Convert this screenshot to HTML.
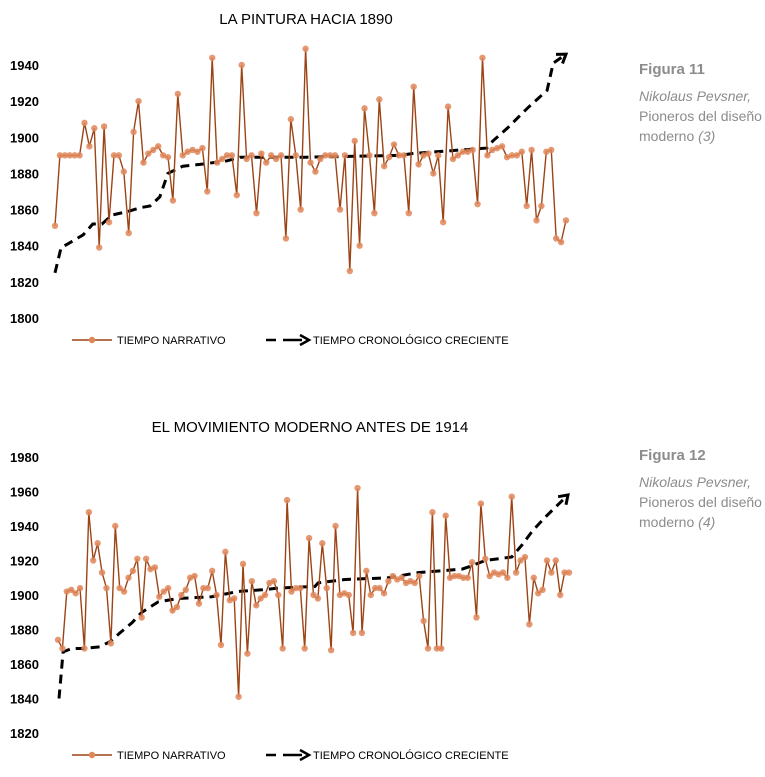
<!DOCTYPE html>
<html><head><meta charset="utf-8">
<style>
body{margin:0;background:#fff;width:765px;height:777px;overflow:hidden;font-family:"Liberation Sans",sans-serif}
svg{position:absolute;left:0;top:0}
.side{position:absolute;left:639px;color:#8c8c8c;font-size:14px;line-height:20px}
.side b{display:block;font-size:15px;margin-bottom:6px;color:#8c8c8c}
</style></head>
<body>
<svg id="chart" width="765" height="777"></svg>
<div class="side" style="top:60px"><b>Figura 11</b><i>Nikolaus Pevsner,</i><br>Pioneros del diseño<br>moderno <i>(3)</i></div>
<div class="side" style="top:446px"><b>Figura 12</b><i>Nikolaus Pevsner,</i><br>Pioneros del diseño<br>moderno <i>(4)</i></div>
<script>
const narr1=[1851,1890,1890,1890,1890,1890,1908,1895,1905,1839,1906,1853,1890,1890,1881,1847,1903,1920,1886,1891,1893,1895,1890,1889,1865,1924,1890,1892,1893,1892,1894,1870,1944,1886,1888,1890,1890,1868,1940,1888,1890,1858,1891,1886,1890,1888,1890,1844,1910,1890,1860,1949,1886,1881,1888,1890,1890,1890,1860,1890,1826,1898,1840,1916,1890,1858,1921,1884,1889,1896,1890,1890,1858,1928,1885,1890,1891,1880,1890,1853,1917,1888,1890,1892,1892,1893,1863,1944,1890,1893,1894,1895,1889,1890,1890,1892,1862,1893,1854,1862,1892,1893,1844,1842,1854];
const trendProg1=[0,.012,.025,.055,.074,.092,.112,.143,.166,.186,.205,.221,.25,.284,.337,.362,.493,.675,.70,.845,.857,.885,.924,.963,.975,1.0];
const trendVal1=[1825,1839,1841,1846,1852,1852,1857,1859,1861,1862,1867,1880,1884,1885,1887,1889,1889,1890,1891,1894,1898,1905,1916,1926,1941,1946];
const ticks1=[1800,1820,1840,1860,1880,1900,1920,1940];
const narr2=[1874,1869,1902,1903,1901,1904,1869,1948,1920,1930,1913,1904,1872,1940,1904,1902,1910,1914,1921,1887,1921,1915,1916,1899,1902,1904,1891,1893,1900,1903,1910,1911,1895,1904,1904,1914,1900,1871,1925,1897,1898,1841,1918,1866,1908,1894,1898,1900,1907,1908,1900,1869,1955,1902,1904,1904,1869,1933,1900,1898,1930,1904,1868,1940,1900,1901,1900,1878,1962,1878,1914,1900,1904,1904,1901,1908,1911,1909,1910,1907,1908,1907,1911,1885,1869,1948,1869,1869,1946,1910,1911,1911,1910,1910,1919,1887,1953,1921,1911,1913,1912,1913,1910,1957,1913,1920,1922,1883,1910,1901,1903,1920,1913,1920,1900,1913,1913];
const trendProg2=[.002,.01,.027,.049,.082,.102,.121,.145,.164,.196,.235,.301,.352,.399,.431,.503,.509,.562,.646,.705,.791,.81,.836,.888,.908,.928,.953,.998];
const trendVal2=[1840,1867,1869,1869,1870,1873,1878,1884,1890,1896,1898,1899,1902,1903,1904,1905,1907,1909,1910,1913,1915,1917,1920,1922,1929,1937,1945,1958];
const ticks2=[1820,1840,1860,1880,1900,1920,1940,1960,1980];

const NS="http://www.w3.org/2000/svg";
const svg=document.getElementById('chart');
function mk(tag,attrs,parent){const e=document.createElementNS(NS,tag);for(const k in attrs)e.setAttribute(k,attrs[k]);(parent||svg).appendChild(e);return e;}

function drawChart(cfg){
  const g=mk('g',{});
  
  
  const y=v=>cfg.yBot-(v-cfg.vMin)/(cfg.vMax-cfg.vMin)*(cfg.yBot-cfg.yTop);
  const xi=i=>cfg.x0+i/(cfg.narr.length-1)*(cfg.x1-cfg.x0);
  const xp=p=>cfg.x0+p*(cfg.x1-cfg.x0);
  const t=mk('text',{x:cfg.titleX,y:cfg.titleY,'text-anchor':'middle','font-size':'15','fill':'#000'},g);
  t.textContent=cfg.title;
  
  
  cfg.ticks.forEach(v=>{
    const l=mk('text',{x:10,y:y(v)+5,'font-size':'13','font-weight':'bold','fill':'#000'},g);
    l.textContent=v;
    
    
  });
  // trend
  let d='';
  cfg.tp.forEach((p,i)=>{d+=(i?'L':'M')+xp(p).toFixed(1)+' '+y(cfg.tv[i]).toFixed(1);});
  const tr=mk('path',{d:d,fill:'none',stroke:'#000','stroke-width':'3','stroke-dasharray':'9 6'},g);
  
  
  const n=cfg.tp.length;
  const ex=xp(cfg.tp[n-1]),ey=y(cfg.tv[n-1]),px=xp(cfg.tp[n-2]),py=y(cfg.tv[n-2]);
  const a=Math.atan2(ey-py,ex-px),L=10;
  const ah=mk('path',{d:`M${ex-L*Math.cos(a-0.6)} ${ey-L*Math.sin(a-0.6)}L${ex} ${ey}L${ex-L*Math.cos(a+0.6)} ${ey-L*Math.sin(a+0.6)}`,fill:'none',stroke:'#000','stroke-width':'3'},g);
  
  
  // narrative
  let d2='';
  cfg.narr.forEach((v,i)=>{d2+=(i?'L':'M')+xi(i).toFixed(1)+' '+y(v).toFixed(1);});
  const nl=mk('path',{d:d2,fill:'none',stroke:'#9c4416','stroke-width':'1.4'},g);
  
  
  cfg.narr.forEach((v,i)=>{
    const c=mk('circle',{cx:xi(i),cy:y(v),r:3.2,fill:'#e0875a','fill-opacity':'0.85'},g);
    
    
  });
  // legend
  const ly=cfg.legY;
  const lg=mk('g',{},g);
  
  
  mk('line',{x1:72,y1:ly,x2:112,y2:ly,stroke:'#9c4416','stroke-width':'1.4'},lg);
  mk('circle',{cx:92,cy:ly,r:3.2,fill:'#e0875a'},lg);
  const t1=mk('text',{x:117,y:ly+4,'font-size':'11','fill':'#000'},lg);
  t1.textContent='TIEMPO NARRATIVO';
  
  
  mk('path',{d:`M266 ${ly}H276M283 ${ly}H302`,stroke:'#000','stroke-width':'2.5',fill:'none'},lg);
  mk('path',{d:`M300 ${ly-5}L309 ${ly}L300 ${ly+5}`,stroke:'#000','stroke-width':'2.5',fill:'none'},lg);
  const t2=mk('text',{x:313,y:ly+4,'font-size':'11','fill':'#000'},lg);
  t2.textContent='TIEMPO CRONOLÓGICO CRECIENTE';
  
  
}
drawChart({name:'chart-pintura-1890',title:'LA PINTURA HACIA 1890',titleX:306,titleY:24,narr:narr1,tp:trendProg1,tv:trendVal1,ticks:ticks1,vMin:1800,vMax:1940,yBot:318,yTop:65,x0:55,x1:566,legY:340});
drawChart({name:'chart-movimiento-moderno',title:'EL MOVIMIENTO MODERNO ANTES DE 1914',titleX:310,titleY:432,narr:narr2,tp:trendProg2,tv:trendVal2,ticks:ticks2,vMin:1820,vMax:1980,yBot:733,yTop:457,x0:58,x1:569,legY:755});
</script>
</body></html>
